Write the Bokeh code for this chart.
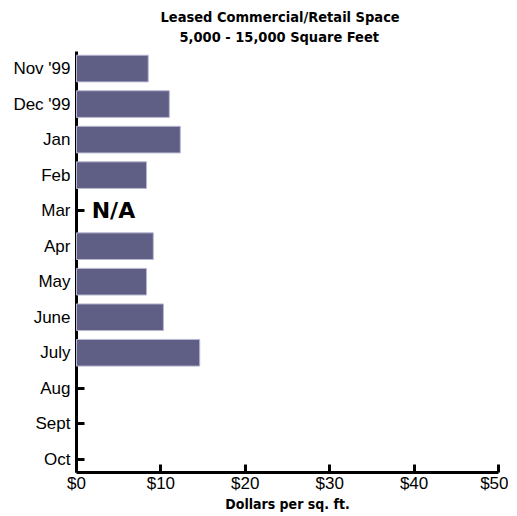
from bokeh.plotting import figure
from bokeh.models import Title, FixedTicker, Range1d
from bokeh.core.properties import value
from bokeh.embed import file_html
from bokeh.resources import INLINE

months = ["Nov '99", "Dec '99", "Jan", "Feb", "Mar", "Apr", "May", "June", "July", "Aug", "Sept", "Oct"]
rates = [8.5, 11.0, 12.3, 8.3, None, 9.1, 8.3, 10.3, 14.6, None, None, None]
na_month = "Mar"
x_ticks = [0, 10, 20, 30, 40, 50]
x_tick_labels = ["$0", "$10", "$20", "$30", "$40", "$50"]
title_lines = ["Leased Commercial/Retail Space", "5,000 - 15,000 Square Feet"]

idx = list(range(len(months)))
bar_y = [i for i, r in zip(idx, rates) if r is not None]
bar_x = [r for r in rates if r is not None]

COND = "DejaVu Sans Condensed"

p = figure(width=508, height=515, output_backend="svg", toolbar_location=None,
           x_range=Range1d(0, 50), y_range=Range1d(len(months) - 0.63, -0.48),
           min_border_left=76, min_border_right=10, min_border_top=51, min_border_bottom=43)

p.hbar(y=bar_y, right=bar_x, left=0, height=0.75, fill_color="#5f5e85", line_color="#b9b8d2",
       line_width=1, level="overlay")
p.text(x=[1.8], y=[months.index(na_month)], text=["N/A"], text_font=value("DejaVu Sans"),
       text_font_style="bold", text_font_size="22px", text_baseline="middle", text_align="left", text_color="black")

p.xgrid.visible = False
p.ygrid.visible = False
p.outline_line_color = None
p.background_fill_color = "white"
p.border_fill_color = "white"

for ax in (p.xaxis, p.yaxis):
    ax.axis_line_width = 3
    ax.axis_line_color = "black"
    ax.major_tick_line_width = 3
    ax.major_tick_line_color = "black"
    ax.major_tick_in = 8
    ax.major_tick_out = 0
    ax.minor_tick_line_color = None
    ax.major_label_text_font = "Liberation Sans"
    ax.major_label_text_font_size = "17px"
    ax.major_label_text_color = "black"

p.xaxis.ticker = FixedTicker(ticks=x_ticks)
p.xaxis.major_label_overrides = {t: l for t, l in zip(x_ticks, x_tick_labels)}
p.xaxis.major_label_standoff = 1
p.xaxis.major_label_text_line_height = 1.0
p.xaxis.axis_label = "Dollars per sq. ft."
p.xaxis.axis_label_text_font = COND
p.xaxis.axis_label_text_font_style = "bold"
p.xaxis.axis_label_text_font_size = "14px"
p.xaxis.axis_label_text_color = "black"
p.xaxis.axis_label_text_line_height = 1.0
p.xaxis.axis_label_standoff = 0

p.yaxis.ticker = FixedTicker(ticks=idx)
p.yaxis.major_label_overrides = {i: m for i, m in zip(idx, months)}
p.yaxis.major_label_standoff = 6

p.add_layout(Title(text=title_lines[1], align="left", text_font=COND, text_font_style="bold",
                   text_font_size="14.5px", text_color="black", text_line_height=1.0,
                   standoff=13, offset=103), "above")
p.add_layout(Title(text=title_lines[0], align="left", text_font=COND, text_font_style="bold",
                   text_font_size="14.5px", text_color="black", text_line_height=1.0,
                   standoff=-8, offset=84), "above")
p.title.text = ""

open("out.html", "w").write(file_html(p, INLINE))
